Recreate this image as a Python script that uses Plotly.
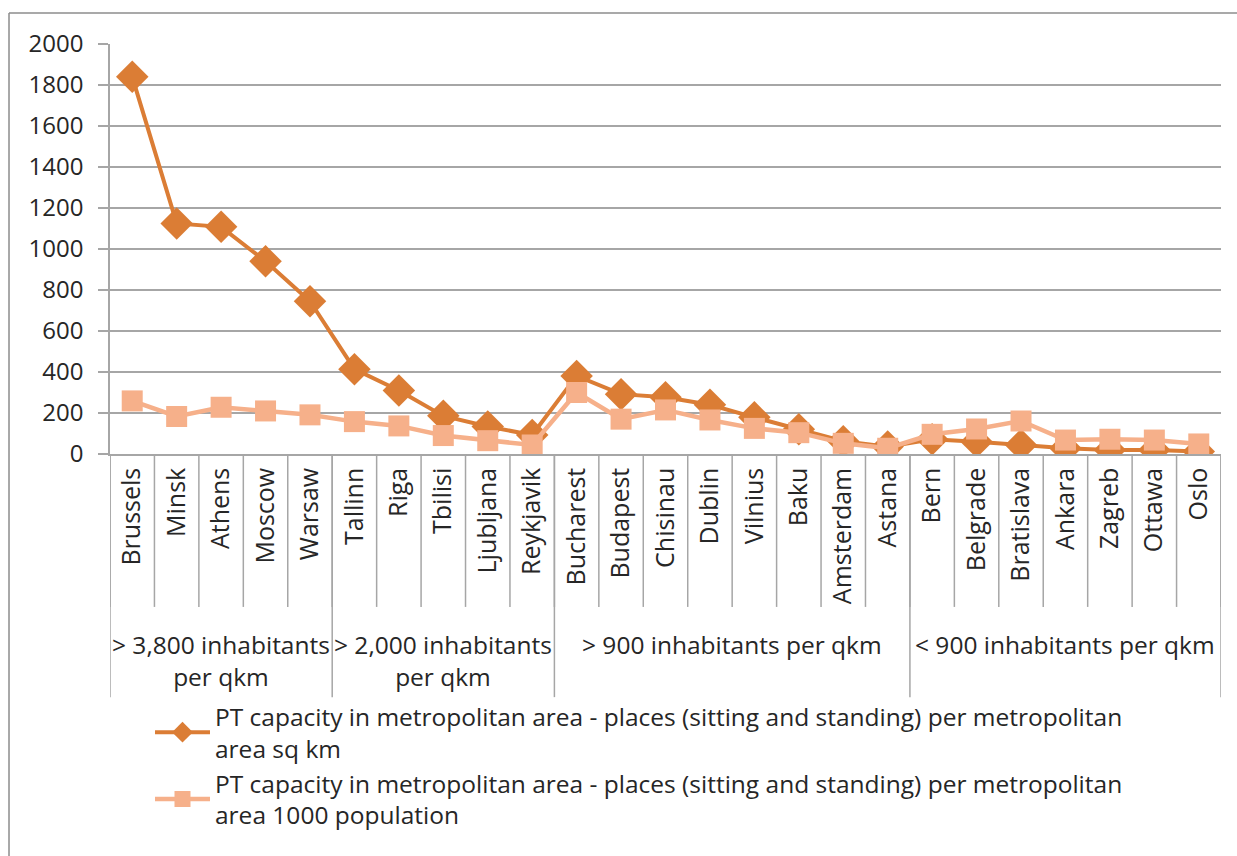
import plotly.graph_objects as go

cities = ["Brussels", "Minsk", "Athens", "Moscow", "Warsaw",
          "Tallinn", "Riga", "Tbilisi", "Ljubljana", "Reykjavik",
          "Bucharest", "Budapest", "Chisinau", "Dublin", "Vilnius", "Baku", "Amsterdam", "Astana",
          "Bern", "Belgrade", "Bratislava", "Ankara", "Zagreb", "Ottawa", "Oslo"]
group_labels = ["> 3,800 inhabitants<br>per qkm", "> 2,000 inhabitants<br>per qkm",
                "> 900 inhabitants per qkm", "< 900 inhabitants per qkm"]
group_sizes = [5, 5, 8, 7]

per_sqkm = [1840, 1125, 1108, 940, 745,
            414, 310, 186, 134, 93,
            381, 292, 277, 240, 179, 121, 62, 36,
            72, 60, 44, 28, 20, 20, 12]
per_1000pop = [259, 183, 228, 210, 191,
               158, 137, 90, 65, 44,
               300, 170, 215, 166, 125, 104, 52, 28,
               96, 122, 161, 68, 72, 68, 49]

name1 = "PT capacity in metropolitan area - places (sitting and standing) per metropolitan<br>area sq km"
name2 = "PT capacity in metropolitan area - places (sitting and standing) per metropolitan<br>area 1000 population"

DARK = "#DB7D35"
LIGHT = "#F6B08A"
GRID = "#A6A6A6"
TXT = "#262626"
FONT = "Open Sans"

fig = go.Figure()
fig.add_trace(go.Scatter(x=cities, y=per_sqkm, name=name1, mode="lines+markers",
                         line=dict(color=DARK, width=4),
                         marker=dict(symbol="diamond", size=25, color=DARK)))
fig.add_trace(go.Scatter(x=cities, y=per_1000pop, name=name2, mode="lines+markers",
                         line=dict(color=LIGHT, width=4.5),
                         marker=dict(symbol="square", size=21, color=LIGHT)))

shapes = []
annotations = []
n = len(cities)
# inner category boundaries
for i in range(n + 1):
    shapes.append(dict(type="line", xref="x", yref="paper", x0=i - 0.5, x1=i - 0.5,
                       y0=0, y1=-0.373, line=dict(color=GRID, width=1.5)))
# group dividers and labels
start = 0
bounds = [0]
for lab, sz in zip(group_labels, group_sizes):
    center = start + (sz - 1) / 2
    annotations.append(dict(text=lab, x=center, xref="x", y=-0.42, yref="paper",
                            yanchor="top", xanchor="center", showarrow=False,
                            font=dict(family=FONT, size=24.5, color=TXT)))
    start += sz
    bounds.append(start)
for b in bounds:
    shapes.append(dict(type="line", xref="x", yref="paper", x0=b - 0.5, x1=b - 0.5,
                       y0=0, y1=-0.593, line=dict(color=GRID, width=1.5)))
# chart border (left and top edges)
shapes.append(dict(type="line", xref="paper", yref="paper", x0=-0.0909, x1=-0.0909,
                   y0=-2, y1=1.0756, line=dict(color="#8C8C8C", width=1.5)))
shapes.append(dict(type="line", xref="paper", yref="paper", x0=-0.0909, x1=1.0144,
                   y0=1.0756, y1=1.0756, line=dict(color="#8C8C8C", width=1.5)))

fig.update_layout(
    width=1237, height=856,
    margin=dict(l=110, r=16, t=44, b=402),
    paper_bgcolor="white", plot_bgcolor="white",
    font=dict(family=FONT, size=24, color=TXT),
    showlegend=True,
    legend=dict(x=0.036, y=-0.585, xanchor="left", yanchor="top",
                font=dict(family=FONT, size=24.5, color=TXT),
                itemwidth=55, tracegroupgap=0, bgcolor="rgba(0,0,0,0)"),
    xaxis=dict(type="category", tickangle=-90, showgrid=False, showline=True,
               linecolor=GRID, linewidth=1.5, ticks="", range=[-0.5, n - 0.5],
               tickfont=dict(family=FONT, size=25, color=TXT), ticklabelstandoff=2),
    yaxis=dict(range=[0, 2000], dtick=200, showgrid=True, gridcolor=GRID, gridwidth=1.5,
               showline=True, linecolor=GRID, linewidth=1.5, ticks="outside", ticklen=10,
               tickcolor=GRID, tickwidth=1.5, zeroline=False, ticklabelstandoff=10,
               tickfont=dict(family=FONT, size=24, color=TXT)),
    shapes=shapes, annotations=annotations,
)

fig.write_html("out.html",
               config={"displayModeBar": False},
               post_script="document.body.style.margin='0';"
                           "document.documentElement.style.overflow='hidden';"
                           "document.body.style.overflow='hidden';")
